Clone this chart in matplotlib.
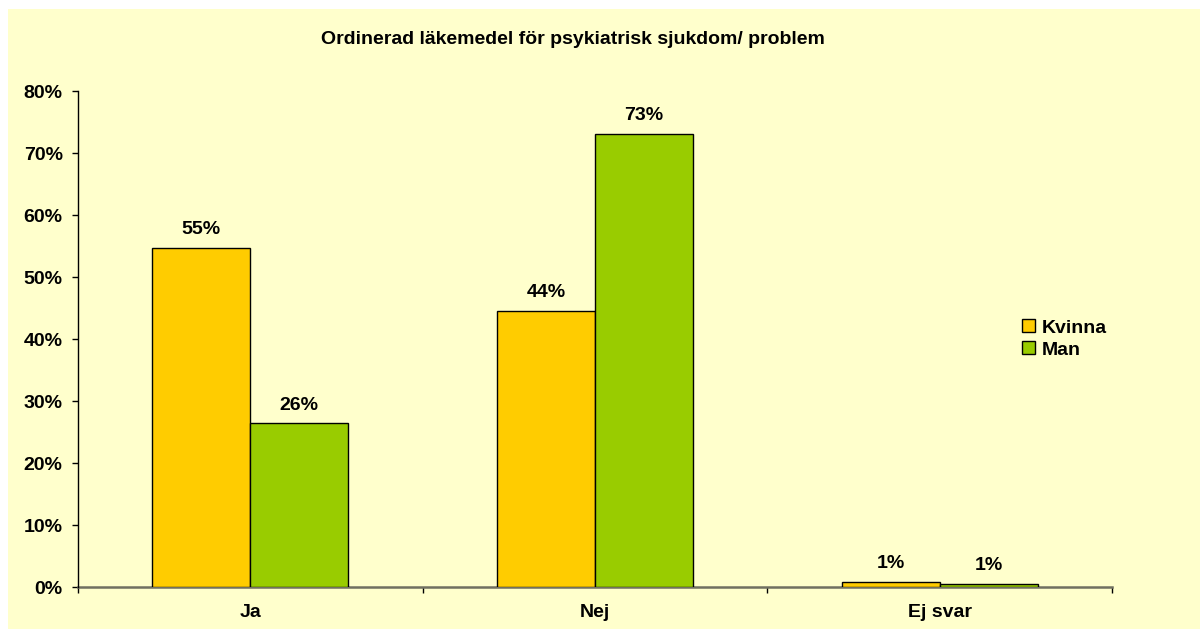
import matplotlib
matplotlib.use("Agg")
import matplotlib.pyplot as plt
from matplotlib.patches import Rectangle, Patch
from matplotlib.ticker import FixedLocator, FuncFormatter

categories = ["Ja", "Nej", "Ej svar"]
series_names = ["Kvinna", "Man"]
kvinna = [54.7, 44.5, 0.8]
man = [26.4, 73.1, 0.5]
value_labels_kvinna = ["55%", "44%", "1%"]
value_labels_man = ["26%", "73%", "1%"]
yticks = [0, 10, 20, 30, 40, 50, 60, 70, 80]
title = "Ordinerad läkemedel för psykiatrisk sjukdom/ problem"

c_kvinna = "#FFCC00"
c_man = "#99CC00"
bg = "#FFFFCC"

plt.rcParams['font.family'] = ['Liberation Sans', 'DejaVu Sans']
plt.rcParams['font.weight'] = 'bold'
FS = 14

W, H = 1200, 630
fig = plt.figure(figsize=(12, 6.3), dpi=100, facecolor="white")
fig.patches.append(Rectangle((8 / W, 1 / H), 1 - 8 / W, 620 / H, transform=fig.transFigure,
                             facecolor=bg, edgecolor="none", zorder=-10))

ax = fig.add_axes([78 / W, (H - 587) / H, (1112 - 78) / W, (587 - 91) / H])
ax.set_facecolor("none")

bw = 0.284
xs = list(range(len(categories)))
b1 = ax.bar([x - bw / 2 for x in xs], kvinna, width=bw, color=c_kvinna,
            edgecolor="black", linewidth=1.0, zorder=3)
b2 = ax.bar([x + bw / 2 for x in xs], man, width=bw, color=c_man,
            edgecolor="black", linewidth=1.0, zorder=3)

for bars, labels in ((b1, value_labels_kvinna), (b2, value_labels_man)):
    for rect, lab in zip(bars, labels):
        ax.annotate(lab, (rect.get_x() + rect.get_width() / 2, rect.get_height()),
                    xytext=(0, 7), textcoords="offset points", ha="center", va="bottom",
                    fontsize=FS, fontweight="bold", color="black")

ax.set_xlim(-0.5, len(categories) - 0.5)
ax.set_ylim(0, 80)
ax.set_yticks(yticks)
ax.yaxis.set_major_formatter(FuncFormatter(lambda v, p: f"{int(v)}%"))
ax.set_xticks(xs)
ax.set_xticklabels(categories)
ax.xaxis.set_minor_locator(FixedLocator([-0.5 + i for i in range(len(categories) + 1)]))
ax.tick_params(axis="x", which="major", length=0, pad=12, labelsize=FS)
ax.tick_params(axis="x", which="minor", length=4, width=1, color="black", direction="out")
ax.tick_params(axis="y", length=4.5, width=1, direction="out", pad=6.5, labelsize=FS)
for lab in ax.get_xticklabels() + ax.get_yticklabels():
    lab.set_fontweight("bold")

ax.spines["top"].set_visible(False)
ax.spines["right"].set_visible(False)
ax.spines["left"].set_color("black")
ax.spines["left"].set_linewidth(1.0)
ax.spines["bottom"].set_color("#707060")
ax.spines["bottom"].set_linewidth(1.8)
ax.spines["bottom"].set_zorder(2)

fig.text(573 / W, 1 - 39 / H, title, ha="center", va="center",
         fontsize=FS, fontweight="bold", color="black")

handles = [Patch(facecolor=c_kvinna, edgecolor="black", linewidth=1.0),
           Patch(facecolor=c_man, edgecolor="black", linewidth=1.0)]
leg = fig.legend(handles, series_names, loc="center left",
                 bbox_to_anchor=(1022 / W, 1 - 339 / H), frameon=False,
                 handlelength=0.65, handleheight=0.65, handletextpad=0.35,
                 labelspacing=0.25, borderpad=0, borderaxespad=0,
                 prop={"weight": "bold", "size": FS})

fig.savefig("out.png", dpi=100, facecolor=fig.get_facecolor())
